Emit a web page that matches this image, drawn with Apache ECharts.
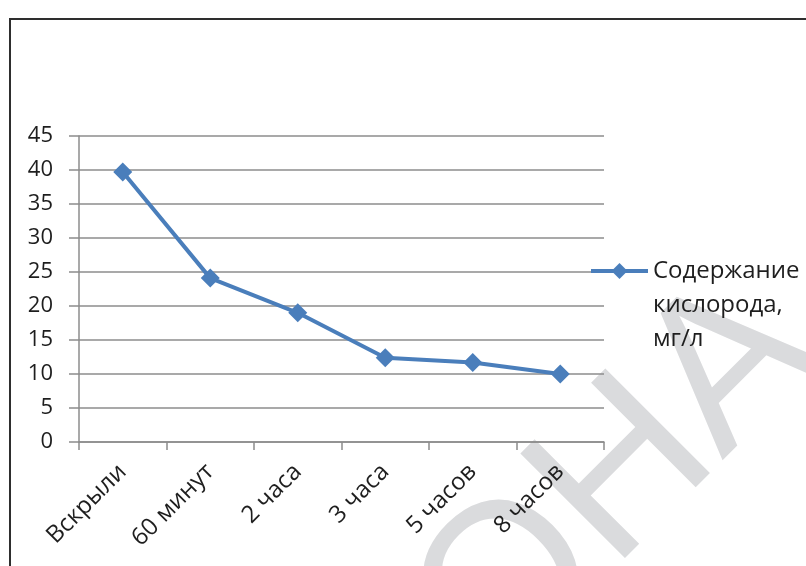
<!DOCTYPE html>
<html>
<head>
<meta charset="utf-8">
<script src="https://cdn.jsdelivr.net/npm/echarts@6/dist/echarts.min.js"></script>
<style>html,body{margin:0;padding:0;background:#fff;}#c{width:806px;height:566px;}</style>
</head>
<body>
<div id="c"></div>
<script>
const categories = ['Вскрыли', '60 минут', '2 часа', '3 часа', '5 часов', '8 часов'];
const oxygenValues = [39.7, 24.1, 19.0, 12.4, 11.7, 10.0];
const seriesName = 'Содержание\nкислорода,\nмг/л';
const yTicks = { min: 0, max: 45, interval: 5 };

const chart = echarts.init(document.getElementById('c'), null, { renderer: 'canvas' });
const FONT = '"Open Sans", "Noto Sans", sans-serif';
const blue = '#4a7ebb';
const gridGray = '#8c8c8c';

chart.setOption({
  backgroundColor: '#fff',
  animation: false,
  grid: { left: 79, right: 202, top: 136, bottom: 124, containLabel: false },
  xAxis: {
    type: 'category',
    data: categories,
    boundaryGap: true,
    axisLine: { lineStyle: { color: gridGray, width: 1.5 } },
    axisTick: { show: true, length: 8, lineStyle: { color: gridGray, width: 1.5 } },
    axisLabel: { rotate: 45, interval: 0, margin: 26, color: '#1e1e1e', fontSize: 24, fontFamily: FONT }
  },
  yAxis: {
    type: 'value',
    min: yTicks.min, max: yTicks.max, interval: yTicks.interval,
    axisLine: { show: true, lineStyle: { color: gridGray, width: 1.5 } },
    axisTick: { show: true, length: 10, lineStyle: { color: gridGray, width: 1.5 } },
    splitLine: { show: true, lineStyle: { color: gridGray, width: 1.5 } },
    axisLabel: { margin: 26, color: '#1e1e1e', fontSize: 22, fontFamily: FONT }
  },
  legend: {
    left: 589, top: 186, padding: 0,
    itemWidth: 57, itemHeight: 20, itemGap: 0,
    lineStyle: { width: 4 },
    formatter: function (name) { return '\n\n' + name; },
    textStyle: { fontSize: 24, fontFamily: FONT, color: '#1e1e1e', lineHeight: 34 },
    data: [seriesName]
  },
  series: [{
    name: seriesName,
    type: 'line',
    data: oxygenValues,
    symbol: 'diamond',
    symbolSize: 19,
    lineStyle: { color: blue, width: 4 },
    itemStyle: { color: blue },
    z: 3
  }],
  graphic: [
    {
      type: 'text', silent: true, z: -10,
      x: 617, y: 482, rotation: Math.PI / 4,
      style: { text: 'ОНА', font: '215px "Liberation Sans"', fill: '#dadbdd', textAlign: 'center', textVerticalAlign: 'middle' }
    },
    {
      type: 'rect', silent: true, z: 10,
      shape: { x: 10, y: 19, width: 820, height: 580 },
      style: { fill: 'none', stroke: '#2e2e2e', lineWidth: 2 }
    }
  ]
});
</script>
</body>
</html>
